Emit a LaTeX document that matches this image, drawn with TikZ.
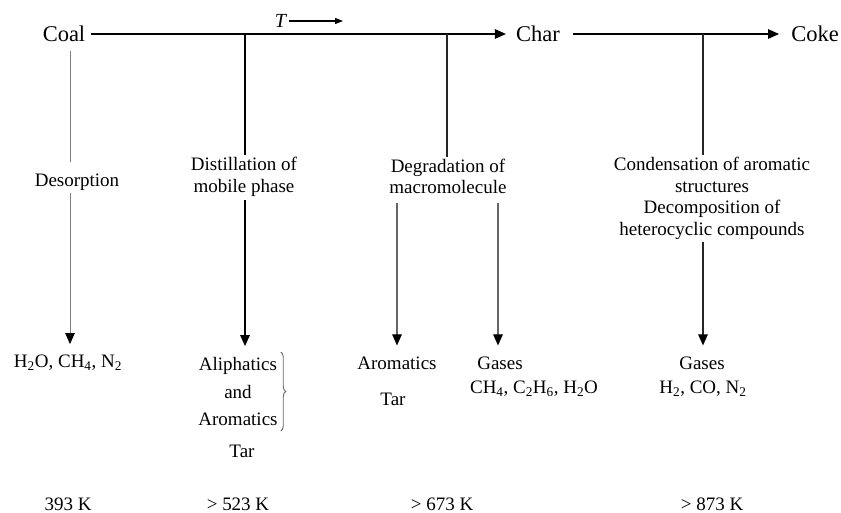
\documentclass[tikz,border=0pt]{standalone}
\usepackage{fontspec}
\setmainfont{Liberation Serif}
\usetikzlibrary{arrows.meta,decorations.pathreplacing}
\begin{document}
\begin{tikzpicture}[x=1pt,y=-1pt,
  txt/.style={inner sep=2pt, font=\fontsize{19}{21.7}\selectfont, align=center},
  big/.style={inner sep=0pt, font=\fontsize{22.5}{24}\selectfont},
  tip/.style={-{Triangle[length=11pt,width=9.5pt,color=black]}},
  mainline/.style={line width=1.3pt, draw=black},
  thinline/.style={line width=0.8pt, draw=black!50},
  grayline/.style={line width=1.1pt, draw=black!60},
  darkline/.style={line width=1.3pt, draw=black!85},
]
\useasboundingbox[fill=white] (0,0) rectangle (841,513);

% main row
\node[big] (coal) at (64,34) {Coal};
\node[big] (char) at (538,34) {Char};
\node[big] (coke) at (815,34) {Coke};
\draw[mainline,tip] ([xshift=6pt]coal.east) -- ([xshift=-10pt]char.west);
\draw[mainline,tip] ([xshift=13pt]char.east) -- ([xshift=-12pt]coke.west);

% temperature arrow
\node[inner sep=0pt, font=\fontsize{20}{22}\selectfont\itshape] (T) at (280.5,20.5) {T};
\coordinate (tend) at (343,21);
\draw[line width=1.2pt, -{Triangle[length=8pt,width=6pt]}] ([xshift=3pt]T.east |- tend) -- (tend);

% junctions on the main line
\coordinate (j1) at (245,34);
\coordinate (j2) at (447,34);
\coordinate (j3) at (703,34);
\coordinate (d0) at (70,51);

% process labels
\node[txt] (desorp) at (77,182.5) {Desorption};
\node[txt] (dist) at (244,176.5) {Distillation of\\mobile phase};
\node[txt] (degr) at (448,176.5) {Degradation of\\macromolecule};
\node[txt] (cond) at (712,198.5) {Condensation of aromatic\\structures\\Decomposition of\\heterocyclic compounds};

% products
\node[txt] (h2o) at (68,363) {H\textsubscript{2}O, CH\textsubscript{4}, N\textsubscript{2}};
\node[txt, font=\fontsize{19}{27.5}\selectfont] (aliph) at (238,391.5) {Aliphatics\\and\\Aromatics};
\node[txt] (tar1) at (242,451.5) {Tar};
\node[txt] (aro) at (397,363) {Aromatics};
\node[txt] (tar2) at (393,399) {Tar};
\node[txt] (gas1) at (500,363) {Gases};
\node[txt] (gasc1) at (534,389) {CH\textsubscript{4}, C\textsubscript{2}H\textsubscript{6}, H\textsubscript{2}O};
\node[txt] (gas2) at (702,363) {Gases};
\node[txt] (gasc2) at (703,389) {H\textsubscript{2}, CO, N\textsubscript{2}};

% temperatures
\node[txt] (t1) at (68,504) {393 K};
\node[txt] (t2) at (238,504) {> 523 K};
\node[txt] (t3) at (442,504) {> 673 K};
\node[txt] (t4) at (712,504) {> 873 K};

% connectors
\draw[thinline] (d0) -- ([yshift=10pt]d0 |- desorp.north);
\draw[thinline,tip] (d0 |- desorp.south) -- ([yshift=9pt]d0 |- h2o.north);

\draw[mainline] (j1) -- (j1 |- dist.north);
\draw[mainline,tip] ([yshift=-2pt]j1 |- dist.south) -- ([yshift=9pt]j1 |- aliph.north);
\draw[decorate, decoration={brace, amplitude=5pt}, line width=0.9pt, draw=black!60] ([xshift=1pt,yshift=3pt]aliph.north east) -- ([xshift=1pt,yshift=-3pt]aliph.south east);

\draw[darkline] (j2) -- (j2 |- degr.north);
\draw[grayline,tip] ([yshift=-7pt]aro.north |- degr.south) -- ([yshift=9pt]aro.north);
\draw[grayline,tip] ([xshift=-2pt,yshift=-7pt]gas1.north |- degr.south) -- ([xshift=-2pt,yshift=9pt]gas1.north);

\draw[darkline] (j3) -- (j3 |- cond.north);
\draw[darkline,tip] (j3 |- cond.south) -- ([yshift=9pt]j3 |- gas2.north);
\end{tikzpicture}
\end{document}
